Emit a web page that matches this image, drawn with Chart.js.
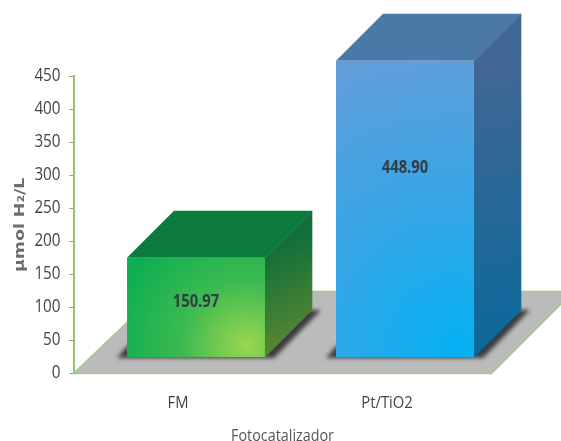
<!DOCTYPE html>
<html>
<head>
<meta charset="utf-8">
<script src="https://cdn.jsdelivr.net/npm/chart.js@4"></script>
<style>
    html, body { margin: 0; padding: 0; background: #fff; overflow: hidden; }
    canvas { display: block; }
</style>
</head>
<body>
<canvas id="graficoFotocatalizador" width="561" height="441"></canvas>
<script>
const categorias = ["FM", "Pt/TiO2"];
const valores = [150.97, 448.90];
const ticksY = [0, 50, 100, 150, 200, 250, 300, 350, 400, 450];
const tituloY = "\u00b5mol H\u2082/L";
const tituloX = "Fotocatalizador";

const fonte = "'Open Sans', sans-serif";
const fonteTituloY = "'DejaVu Sans', sans-serif";
const corTexto = "#444444";

// falso 3D: a barra sai da base deslocada e tem profundidade
const desloc = { x: 18, y: -16 };
const prof = 47;
const pisoFundo = 82;
const alturaRotulo = [83.5, 286.5]; // onde o rótulo fica, em unidades do eixo

const coresBarra = [
    { topo: "#0a7b3d", lado: ["#14703a", "#668c2e"], frente: ["#9ad650", "#3cba50", "#0cae52"] },
    { topo: "#4a79a8", lado: ["#436795", "#08699a"], frente: ["#05b1f4", "#34a6e6", "#5f9edb"] }
];

function gradienteFrente(context) {
    if (context.type !== "data") return "#888";
    const chart = context.chart;
    const x = chart.scales.x.getPixelForValue(context.dataIndex);
    const base = chart.scales.y.getPixelForValue(0);
    const topo = chart.scales.y.getPixelForValue(valores[context.dataIndex]);
    if (!isFinite(x) || !isFinite(base) || !isFinite(topo)) return "#888";
    const cores = coresBarra[context.dataIndex].frente;
    const raio = Math.max(base - topo, 140) * 1.15;
    const g = chart.ctx.createRadialGradient(x + 50, base - 12, 0, x + 50, base - 12, raio);
    g.addColorStop(0, cores[0]);
    g.addColorStop(0.4, cores[1]);
    g.addColorStop(0.85, cores[2]);
    g.addColorStop(1, cores[2]);
    return g;
}

function poligono(ctx, pontos, fill) {
    ctx.beginPath();
    pontos.forEach((p, i) => i ? ctx.lineTo(p[0], p[1]) : ctx.moveTo(p[0], p[1]));
    ctx.closePath();
    ctx.fillStyle = fill;
    ctx.fill();
}

const barras3d = {
    id: "barras3d",
    beforeDatasetsDraw(chart) {
        const ctx = chart.ctx;
        const a = chart.chartArea;
        const barras = chart.getDatasetMeta(0).data;

        // piso
        ctx.save();
        const fundoEsq = a.left + pisoFundo * 1.05;
        const fundoDir = a.right + pisoFundo;
        poligono(ctx, [[a.left, a.bottom], [a.right, a.bottom], [fundoDir, a.bottom - pisoFundo], [fundoEsq, a.bottom - pisoFundo]], "#bbbbbb");
        ctx.strokeStyle = "#a4c68a";
        ctx.lineWidth = 1.5;
        ctx.stroke();
        ctx.restore();

        ctx.save();
        ctx.translate(desloc.x, desloc.y);
        barras.forEach((b, i) => {
            const esq = b.x - b.width / 2;
            const dir = b.x + b.width / 2;

            // sombra
            ctx.save();
            ctx.filter = "blur(2px)";
            poligono(ctx, [[esq - 10, b.base + 1], [dir + 9, b.base + 1], [dir + prof + 9, b.base - prof], [dir + prof - 20, b.base - prof], [esq, b.base - 11]], "#3c3c3c");
            ctx.restore();

            // topo
            poligono(ctx, [[esq, b.y], [esq + prof, b.y - prof], [dir + prof, b.y - prof], [dir, b.y]], coresBarra[i].topo);

            // lado direito
            const gl = ctx.createLinearGradient(dir, b.y, dir + prof, b.base);
            gl.addColorStop(0, coresBarra[i].lado[0]);
            gl.addColorStop(1, coresBarra[i].lado[1]);
            poligono(ctx, [[dir, b.y], [dir + prof, b.y - prof], [dir + prof, b.base - prof], [dir, b.base]], gl);
            ctx.strokeStyle = gl;
            ctx.lineWidth = 0.7;
            ctx.stroke();
        });
    },
    afterDatasetsDraw(chart) {
        const ctx = chart.ctx;
        chart.getDatasetMeta(0).data.forEach((b, i) => {
            ctx.font = "bold 17px " + fonte;
            ctx.fillStyle = "#333d42";
            ctx.textAlign = "center";
            ctx.textBaseline = "middle";
            ctx.fillText(valores[i].toFixed(2), b.x, chart.scales.y.getPixelForValue(alturaRotulo[i]));
        });
        ctx.restore();
    }
};

const ctx = document.getElementById("graficoFotocatalizador").getContext("2d");

// as fontes instaladas são mais largas/estreitas que a original, ajusta só a largura do texto
const fillTextOriginal = ctx.fillText;
ctx.fillText = function (texto, x, y, maxWidth) {
    const largura = this.font.includes("DejaVu") ? 1.24 : 0.87;
    this.save();
    this.translate(x, y);
    this.scale(largura, 1);
    fillTextOriginal.call(this, texto, 0, 0);
    this.restore();
};

new Chart(ctx, {
    type: "bar",
    data: {
        labels: categorias,
        datasets: [{
            data: valores,
            backgroundColor: gradienteFrente,
            borderWidth: 0,
            barPercentage: 0.66,
            categoryPercentage: 1,
            clip: false
        }]
    },
    options: {
        responsive: false,
        animation: false,
        layout: { padding: { left: 0, top: 76, right: 69.5, bottom: 0 } },
        plugins: {
            legend: { display: false },
            tooltip: { enabled: false }
        },
        scales: {
            x: {
                afterFit: scale => { scale.height = 67.5; },
                grid: { display: false },
                border: { display: false },
                ticks: {
                    padding: 11,
                    color: corTexto,
                    maxRotation: 0,
                    font: { family: fonte, size: 17 }
                },
                title: {
                    display: true,
                    text: tituloX,
                    color: "#555555",
                    padding: 0,
                    font: { family: fonte, size: 16.5, lineHeight: 0.6 }
                }
            },
            y: {
                min: 0,
                max: 450,
                afterFit: scale => { scale.width = 73.5; },
                afterBuildTicks: scale => { scale.ticks = ticksY.map(v => ({ value: v })); },
                grid: {
                    drawOnChartArea: false,
                    tickLength: 4,
                    color: "#8e9a80"
                },
                border: { color: "#93c274", width: 2 },
                ticks: {
                    padding: 9,
                    color: corTexto,
                    font: { family: fonte, size: 17.5 }
                },
                title: {
                    display: true,
                    text: tituloY,
                    color: "#6e6e6e",
                    padding: { top: 13, bottom: 0 },
                    font: { family: fonteTituloY, size: 14, weight: "bold", lineHeight: 1 }
                }
            }
        }
    },
    plugins: [barras3d]
});
</script>
</body>
</html>
